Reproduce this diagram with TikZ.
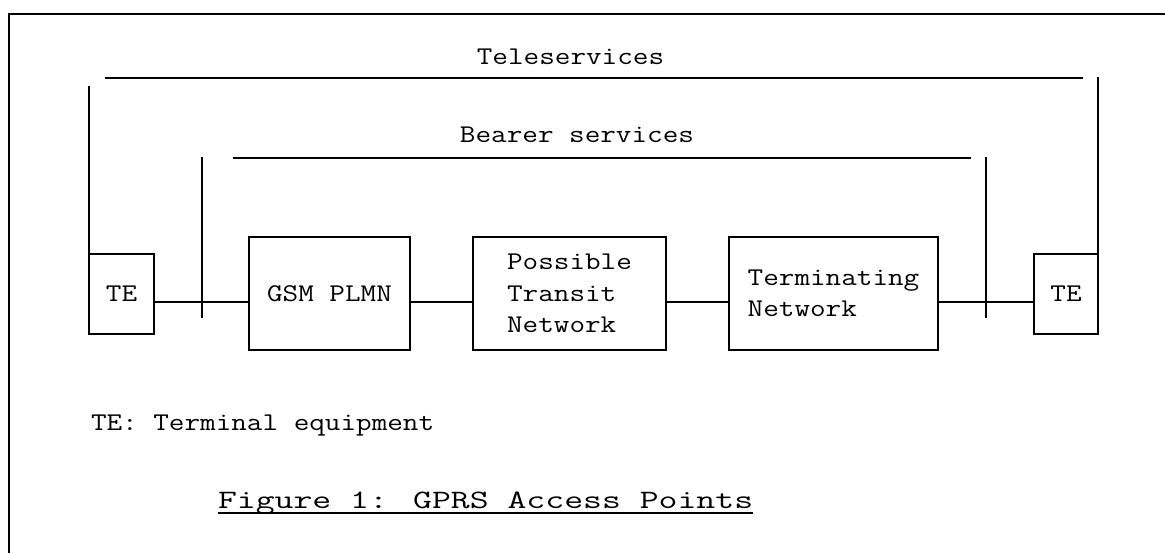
\documentclass[tikz,border=0pt]{standalone}
\usepackage{fontspec}
\newfontfamily\diafont[FakeStretch=1.188]{Latin Modern Mono}
\newfontfamily\capfont[FakeStretch=1.384]{Latin Modern Mono}
\begin{document}
\begin{tikzpicture}[x=1pt,y=-1pt,
  wire/.style={line width=2.6pt, line cap=butt},
  box/.style={draw, line width=2.6pt, inner sep=0pt, outer sep=0pt, align=left,
              font=\diafont\fontsize{25.5}{31.5}\selectfont},
  lbl/.style={inner sep=0pt, outer sep=0pt, font=\diafont\fontsize{25.5}{31.5}\selectfont}]
\useasboundingbox (0,0) rectangle (1165,552);
\fill[white] (0,0) rectangle (1165,552);
% frame
\coordinate (frameBL) at (9,560);
\coordinate (frameTL) at (9,14);
\coordinate (frameTR) at (1170,14);
\draw[line width=2.4pt] (frameBL) -- (frameTL) -- (frameTR);
% boxes
\node[box, minimum width=65pt, minimum height=80pt] (te1) at (121.5,294) {TE};
\node[box, minimum width=161pt, minimum height=113pt] (gsm) at (329.5,293.5) {GSM PLMN};
\node[box, minimum width=193pt, minimum height=113pt] (trans) at (569.5,293.5) {Possible\\Transit\\Network};
\node[box, minimum width=209pt, minimum height=113pt] (term) at (833.5,293.5) {Terminating\\Network};
\node[box, minimum width=64pt, minimum height=80pt] (te2) at (1066,294) {TE};
% connection level
\coordinate (conn) at (0,302);
\draw[wire] (te1.east |- conn) -- (gsm.west |- conn);
\draw[wire] (gsm.east |- conn) -- (trans.west |- conn);
\draw[wire] (trans.east |- conn) -- (term.west |- conn);
\draw[wire] (term.east |- conn) -- (te2.west |- conn);
% bearer services bracket
\node[lbl, anchor=base] (bearer) at (577,142) {Bearer services};
\coordinate (bLtop) at (202,157);
\coordinate (bLbot) at (202,318);
\coordinate (bRtop) at (986,157);
\coordinate (bRbot) at (986,318);
\coordinate (bA) at (233,158);
\coordinate (bB) at (971,158);
\draw[wire] (bLtop) -- (bLbot);
\draw[wire] (bRtop) -- (bRbot);
\draw[wire] (bA) -- (bB);
% teleservices bracket
\node[lbl, anchor=base] (tele) at (570.5,64) {Teleservices};
\coordinate (tLtop) at (89,86);
\coordinate (tRtop) at (1098,77);
\coordinate (tA) at (105,78);
\coordinate (tB) at (1083,78);
\draw[wire] (te1.north west) -- (tLtop);
\draw[wire] (te2.north east) -- (tRtop);
\draw[wire] (tA) -- (tB);
% legend and caption
\node[lbl, anchor=base west] (legend) at (91,430) {TE: Terminal equipment};
\node[lbl, anchor=base west, font=\capfont\fontsize{26.5}{32}\selectfont] (cap) at (218,508)
  {Figure 1: GPRS Access Points};
\draw[line width=2pt] ([yshift=-5pt]cap.base west) -- ([yshift=-5pt]cap.base east);
\end{tikzpicture}
\end{document}
